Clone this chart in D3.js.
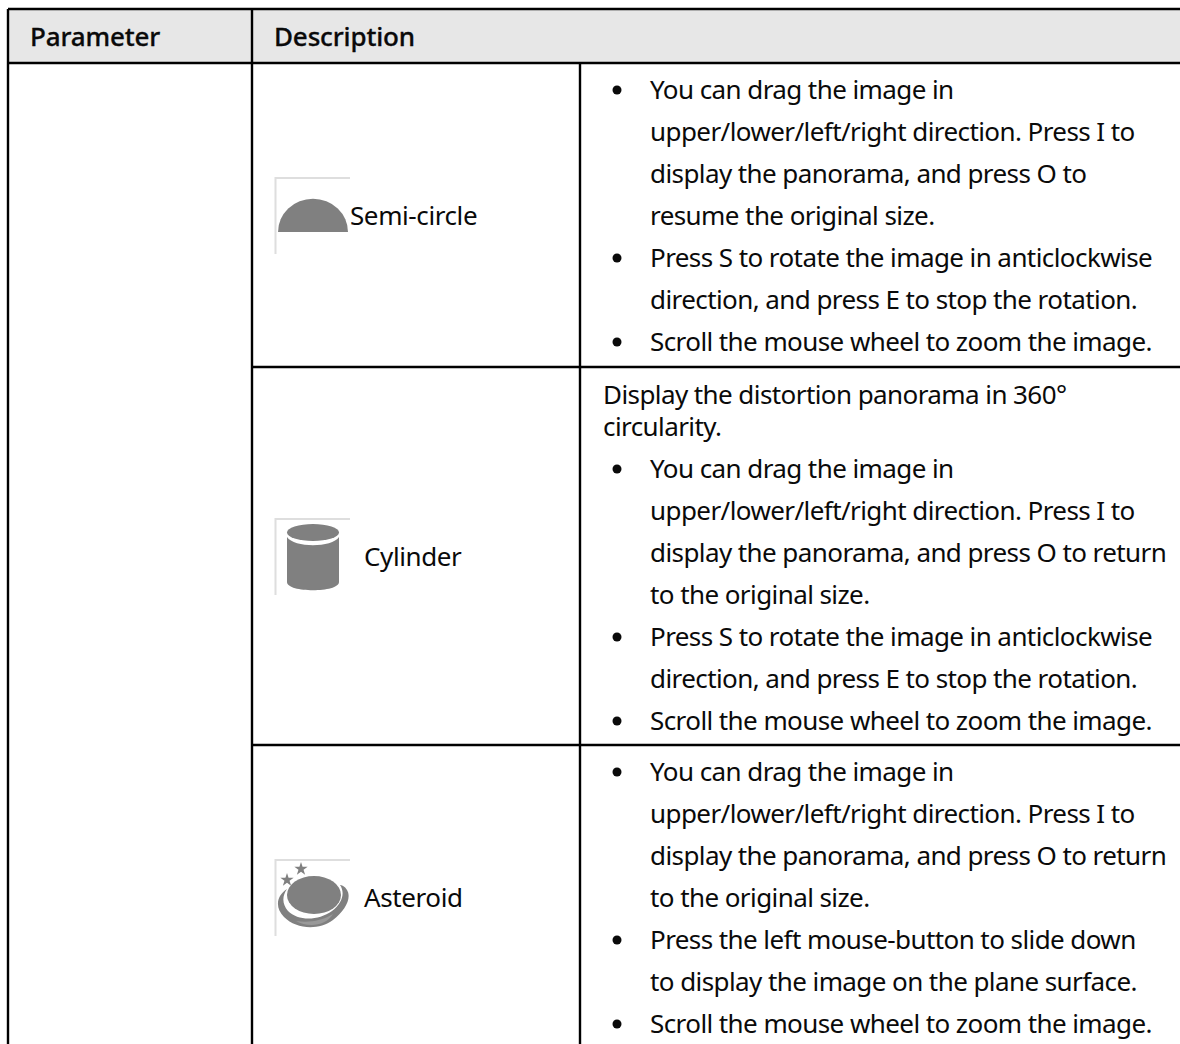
<!DOCTYPE html>
<html>
  <head>
    <meta charset="utf-8">
    <title>Parameter table</title>
    <script src="https://d3js.org/d3.v7.min.js"></script>
    <style>
      body { margin: 0; background: #fff; }
      text { font-family: "Noto Sans", sans-serif; fill: #0a0a0a; }
    </style>
  </head>
  <body>
    <div id="my_dataviz"></div>
    <script>
      var headers = ["Parameter", "Description"];
      var modes = ["Semi-circle", "Cylinder", "Asteroid"];

      var semiLines = [
        "You can drag the image in",
        "upper/lower/left/right direction. Press I to",
        "display the panorama, and press O to",
        "resume the original size.",
        "Press S to rotate the image in anticlockwise",
        "direction, and press E to stop the rotation.",
        "Scroll the mouse wheel to zoom the image."
      ];
      var semiBullets = [0, 4, 6];

      var cylinderIntro = ["Display the distortion panorama in 360°", "circularity."];
      var cylinderLines = [
        "You can drag the image in",
        "upper/lower/left/right direction. Press I to",
        "display the panorama, and press O to return",
        "to the original size.",
        "Press S to rotate the image in anticlockwise",
        "direction, and press E to stop the rotation.",
        "Scroll the mouse wheel to zoom the image."
      ];
      var cylinderBullets = [0, 4, 6];

      var asteroidLines = [
        "You can drag the image in",
        "upper/lower/left/right direction. Press I to",
        "display the panorama, and press O to return",
        "to the original size.",
        "Press the left mouse-button to slide down",
        "to display the image on the plane surface.",
        "Scroll the mouse wheel to zoom the image."
      ];
      var asteroidBullets = [0, 4, 6];

      var width = 1180, height = 1044;
      var fontSize = 26, tight = "-0.58px";

      var svg = d3.select("#my_dataviz")
        .append("svg")
          .attr("width", width)
          .attr("height", height)
          .style("display", "block");

      svg.append("defs").append("filter").attr("id", "soft")
        .append("feGaussianBlur").attr("stdDeviation", 0.7);

      // header band
      svg.append("rect")
        .attr("x", 8).attr("y", 9)
        .attr("width", width - 8).attr("height", 54)
        .attr("fill", "#e7e7e7");

      // table rules
      var rules = [
        [8, 9, width, 9], [8, 63, width, 63],
        [252, 367, width, 367], [252, 745, width, 745],
        [8, 9, 8, height], [252, 9, 252, height],
        [580, 63, 580, height]
      ];
      svg.selectAll("line.rule").data(rules).enter().append("line")
        .attr("class", "rule")
        .attr("x1", function(d) { return d[0]; })
        .attr("y1", function(d) { return d[1]; })
        .attr("x2", function(d) { return d[2]; })
        .attr("y2", function(d) { return d[3]; })
        .attr("stroke", "#000")
        .attr("stroke-width", 2.4);

      svg.selectAll("text.head").data(headers).enter().append("text")
        .attr("class", "head")
        .attr("x", function(d, i) { return [30, 274][i]; })
        .attr("y", 46)
        .attr("font-size", 26)
        .attr("font-weight", 500)
        .attr("letter-spacing", "-0.15px")
        .attr("stroke", "#0a0a0a")
        .attr("stroke-width", 0.3)
        .text(function(d) { return d; });

      function block(lines, bullets, top) {
        var y = d3.scaleLinear().domain([0, 1]).range([top, top + 42]);
        var g = svg.append("g");
        g.selectAll("text").data(lines).enter().append("text")
          .attr("x", 650)
          .attr("y", function(d, i) { return y(i); })
          .attr("font-size", fontSize)
          .attr("letter-spacing", tight)
          .text(function(d) { return d; });
        g.selectAll("circle").data(bullets).enter().append("circle")
          .attr("cx", 617)
          .attr("cy", function(d) { return y(d) - 9; })
          .attr("r", 4.5)
          .attr("fill", "#0a0a0a");
      }

      block(semiLines, semiBullets, 99);
      svg.selectAll("text.intro").data(cylinderIntro).enter().append("text")
        .attr("class", "intro")
        .attr("x", 603)
        .attr("y", function(d, i) { return 404 + i * 32; })
        .attr("font-size", fontSize)
        .attr("letter-spacing", tight)
        .text(function(d) { return d; });
      block(cylinderLines, cylinderBullets, 478);
      block(asteroidLines, asteroidBullets, 781);

      var modeX = [350, 364, 364], modeY = [225, 566, 907];
      svg.selectAll("text.mode").data(modes).enter().append("text")
        .attr("class", "mode")
        .attr("x", function(d, i) { return modeX[i]; })
        .attr("y", function(d, i) { return modeY[i]; })
        .attr("font-size", fontSize)
        .attr("letter-spacing", "-0.4px")
        .text(function(d) { return d; });

      // icon frames: faint top and left edge of each picture
      svg.selectAll("path.frame").data([177, 518, 859]).enter().append("path")
        .attr("class", "frame")
        .attr("d", function(t) { return "M275.5," + (t + 77) + "V" + (t + 1) + "H350"; })
        .attr("fill", "none")
        .attr("stroke", "#dedede")
        .attr("stroke-width", 2);

      var iconColor = "#808080";
      var soft = svg.append("g").attr("filter", "url(#soft)").attr("fill", iconColor);

      // semi-circle
      soft.append("path")
        .attr("transform", "translate(313,232) scale(1,0.95)")
        .attr("d", d3.arc()({innerRadius: 0, outerRadius: 35, startAngle: -Math.PI / 2, endAngle: Math.PI / 2}));

      // cylinder
      soft.append("path").attr("d",
        "M287,537 C294,548 332,548 339,537 V582 C339,593 287,593 287,582 Z");
      soft.append("ellipse").attr("cx", 313).attr("cy", 532.5)
        .attr("rx", 26).attr("ry", 8.5);

      // asteroid
      soft.append("ellipse").attr("cx", 314).attr("cy", 895)
        .attr("rx", 27).attr("ry", 19);
      soft.append("path").attr("d",
        "M287,889 C276,896 275,908 284,917 C296,929 318,931 333,920 C345,911 352,898 347,890 C345,886 341,885 340,885 " +
        "C345,892 343,903 332,911 C318,921 298,921 288,911 C282,904 282,896 287,889 Z");
      soft.append("path").attr("fill", "#999").attr("d",
        "M296,921 C308,923 322,921 333,914 C326,926 308,928 296,921 Z");
      var star = d3.symbol().type(d3.symbolStar).size(55);
      soft.append("path").attr("d", star()).attr("transform", "translate(287,880)");
      soft.append("path").attr("d", star()).attr("transform", "translate(301,869)");
    </script>
  </body>
</html>
